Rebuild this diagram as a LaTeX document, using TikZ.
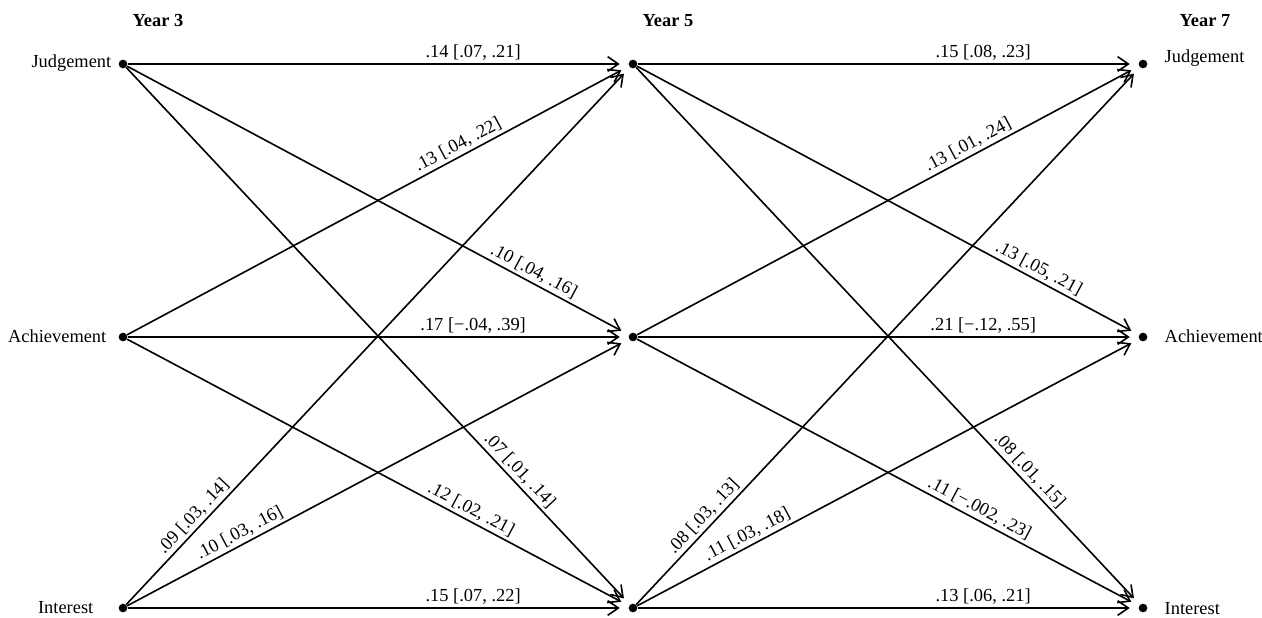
\documentclass[tikz,border=0pt]{standalone}
\usepackage{fontspec}
\setmainfont{Liberation Serif}
\usetikzlibrary{arrows.meta}
\begin{document}
\begin{tikzpicture}[x=0.75pt,y=-0.75pt,
  font=\fontsize{13.8}{16}\selectfont,
  dot/.style={circle,fill=black,inner sep=0pt,minimum size=6.5pt},
  conn/.style={line width=1.2pt,-{Straight Barb[length=8pt,width=11pt,line width=1.2pt]},shorten >=6.5pt},
  lab/.style={sloped,above,inner sep=2pt},
  yr/.style={font=\fontsize{13.8}{16}\selectfont\bfseries,anchor=base west},
  lft/.style={anchor=base east},
  rgt/.style={anchor=base west}]
\useasboundingbox (0,0) rectangle (1262,617);
% dots
\node[dot] (j3) at (123,64) {};
\node[dot] (a3) at (123,337) {};
\node[dot] (i3) at (123,608) {};
\node[dot] (j5) at (633,64) {};
\node[dot] (a5) at (633,337) {};
\node[dot] (i5) at (633,608) {};
\node[dot] (j7) at (1143,64) {};
\node[dot] (a7) at (1143,337) {};
\node[dot] (i7) at (1143,608) {};
% titles
\node[yr] (y3) at (128,27) {Year 3};
\node[yr] (y5) at (638,27) {Year 5};
\node[yr] (y7) at (1175,27) {Year 7};
% variable labels
\node[lft] (tj3) at (116,68) {Judgement};
\node[lft] (ta3) at (111,342) {Achievement};
\node[lft] (ti3) at (98,613) {Interest};
\node[rgt] (tj7) at (1160,63) {Judgement};
\node[rgt] (ta7) at (1160,342) {Achievement};
\node[rgt] (ti7) at (1160,614) {Interest};
% Year 3 -> Year 5
\draw[conn] (j3) -- node[lab,pos=0.69] {.14 [.07, .21]} (j5);
\draw[conn] (a3) -- node[lab,pos=0.67] {.13 [.04, .22]} (j5);
\draw[conn] (i3) -- node[lab,pos=0.15] {.09 [.03, .14]} (j5);
\draw[conn] (j3) -- node[lab,pos=0.80] {.10 [.04, .16]} (a5);
\draw[conn] (a3) -- node[lab,pos=0.69] {.17 [−.04, .39]} (a5);
\draw[conn] (i3) -- node[lab,pos=0.235] {.10 [.03, .16]} (a5);
\draw[conn] (j3) -- node[lab,pos=0.765] {.07 [.01, .14]} (i5);
\draw[conn] (a3) -- node[lab,pos=0.675] {.12 [.02, .21]} (i5);
\draw[conn] (i3) -- node[lab,pos=0.69] {.15 [.07, .22]} (i5);
% Year 5 -> Year 7
\draw[conn] (j5) -- node[lab,pos=0.69] {.15 [.08, .23]} (j7);
\draw[conn] (a5) -- node[lab,pos=0.67] {.13 [.01, .24]} (j7);
\draw[conn] (i5) -- node[lab,pos=0.15] {.08 [.03, .13]} (j7);
\draw[conn] (j5) -- node[lab,pos=0.79] {.13 [.05, .21]} (a7);
\draw[conn] (a5) -- node[lab,pos=0.69] {.21 [−.12, .55]} (a7);
\draw[conn] (i5) -- node[lab,pos=0.23] {.11 [.03, .18]} (a7);
\draw[conn] (j5) -- node[lab,pos=0.765] {.08 [.01, .15]} (i7);
\draw[conn] (a5) -- node[lab,pos=0.672] {.11 [−.002, .23]} (i7);
\draw[conn] (i5) -- node[lab,pos=0.69] {.13 [.06, .21]} (i7);
\end{tikzpicture}
\end{document}
